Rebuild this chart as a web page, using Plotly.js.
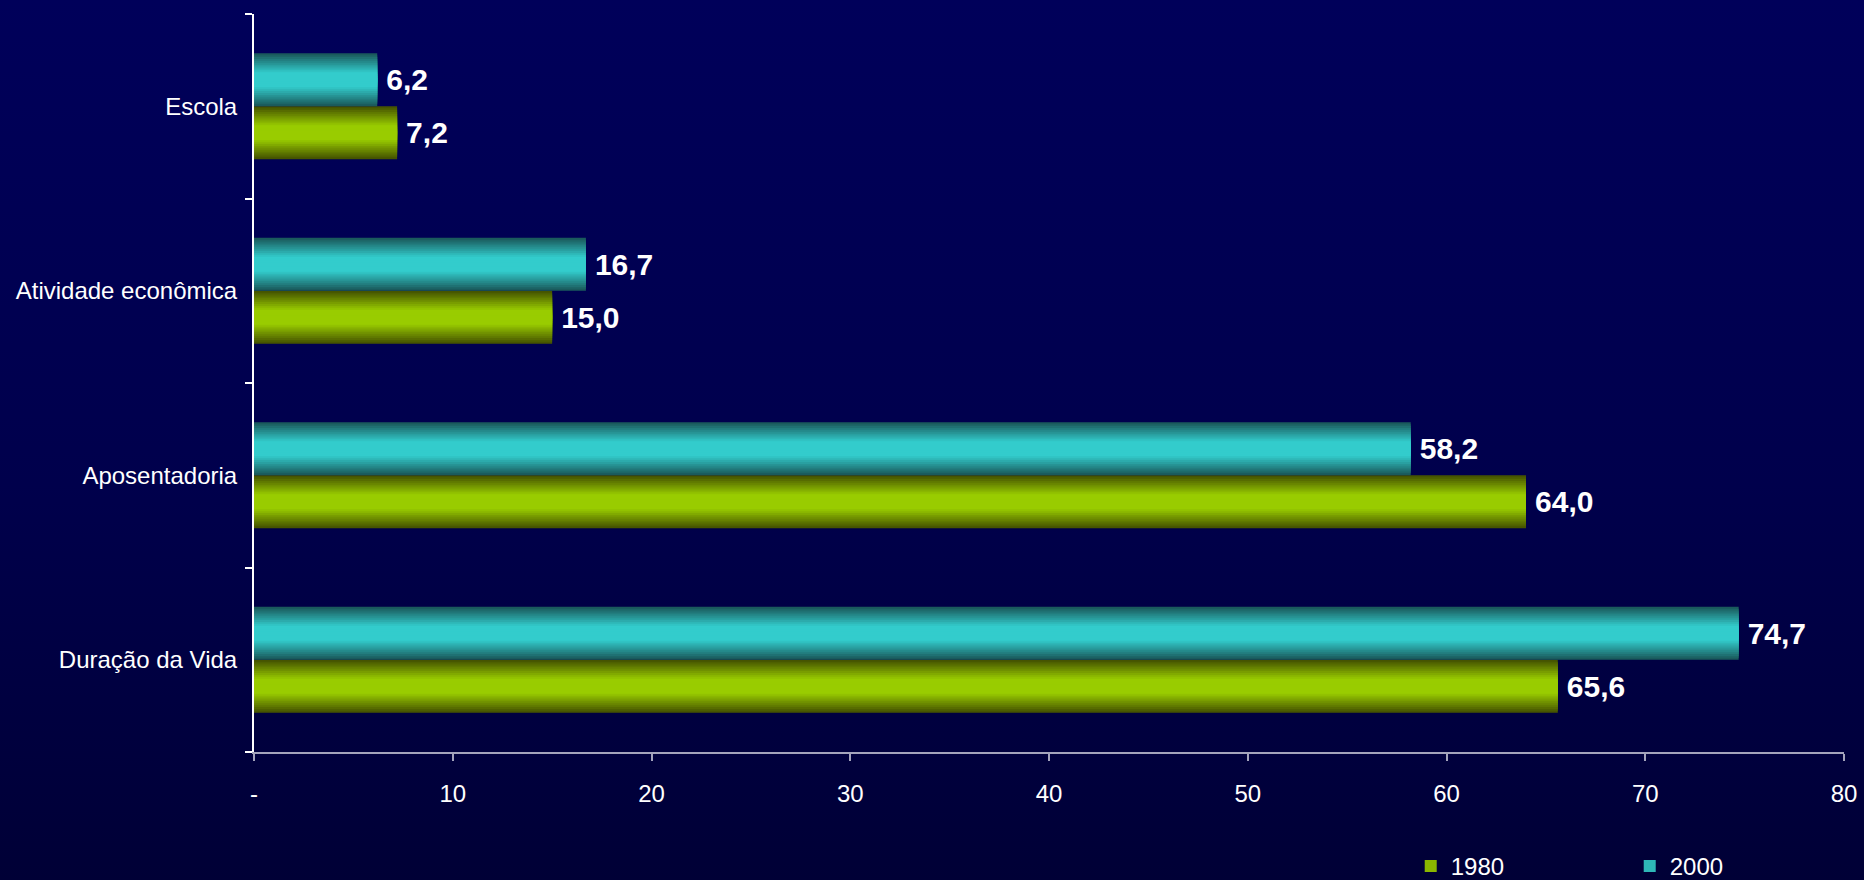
<!DOCTYPE html>
<html>
<head>
<meta charset="utf-8">
<script src="https://cdn.plot.ly/plotly-3.0.1.min.js"></script>
<style>
html,body{margin:0;padding:0;width:1864px;height:880px;overflow:hidden;
background:linear-gradient(to bottom,#00005a 0%,#00004c 55%,#000036 100%);}
#chart{width:1864px;height:880px;}
</style>
</head>
<body>
<div id="chart"></div>
<script>
// ---- data ----
const categories = ['Duração da Vida', 'Aposentadoria', 'Atividade econômica', 'Escola'];
const values1980 = [65.6, 64.0, 15.0, 7.2];
const values2000 = [74.7, 58.2, 16.7, 6.2];
const seriesNames = ['1980', '2000'];
const xTickVals = [0, 10, 20, 30, 40, 50, 60, 70, 80];
const xTickText = ['-', '10', '20', '30', '40', '50', '60', '70', '80'];

// ---- styling ----
const FONT = 'Liberation Sans, Arial, Helvetica, sans-serif';
const BAR_W = 0.287;            // bar thickness in category units
const LAYERS = 14;              // layers used to simulate vertical shading
const series = [
  {name: seriesNames[0], vals: values1980, edge: [70, 84, 0],  center: [153, 204, 0],  base: -BAR_W},
  {name: seriesNames[1], vals: values2000, edge: [26, 90, 92], center: [51, 204, 204], base: 0}
];

function lerp(a, b, t) { return a.map((v, i) => Math.round(v + (b[i] - v) * t)); }
function rgb(c) { return 'rgb(' + c.join(',') + ')'; }

const traces = [];
series.forEach(s => {
  for (let i = 0; i < LAYERS; i++) {
    const f = 1 - i / LAYERS;
    const t = Math.min(1, (i / LAYERS) / 0.7);
    const col = rgb(lerp(s.edge, s.center, t));
    const wi = BAR_W * f;
    const legendLayer = Math.round(LAYERS * 0.55);
    const tr = {
      type: 'bar', orientation: 'h',
      x: s.vals, y: categories,
      name: s.name, legendgroup: s.name,
      showlegend: i === legendLayer,
      width: wi, offset: s.base + (BAR_W - wi) / 2,
      marker: {color: col, line: {width: 0}},
      hoverinfo: 'skip'
    };
    if (i === 0) {
      tr.text = s.vals;
      tr.texttemplate = '\u2009%{x:.1f}';
      tr.textposition = 'outside';
      tr.constraintext = 'none';
      tr.cliponaxis = false;
      tr.textfont = {family: FONT, size: 30, color: '#ffffff', weight: 'bold'};
    } else {
      tr.textposition = 'none';
    }
    traces.push(tr);
  }
});

const layout = {
  width: 1864, height: 880,
  paper_bgcolor: 'rgba(0,0,0,0)', plot_bgcolor: 'rgba(0,0,0,0)',
  separators: ',.',
  barmode: 'overlay',
  margin: {l: 254, r: 20, t: 14, b: 128, pad: 0, autoexpand: false},
  font: {family: FONT, color: '#ffffff', size: 24},
  xaxis: {
    range: [0, 80], tickvals: xTickVals, ticktext: xTickText,
    showgrid: false, zeroline: false, automargin: false,
    showline: true, linecolor: '#a4a4bc', linewidth: 2,
    ticks: 'outside', ticklen: 7, tickcolor: '#a4a4bc', tickwidth: 2,
    ticklabelstandoff: 12,
    tickfont: {family: FONT, size: 24, color: '#ffffff'},
    fixedrange: true
  },
  yaxis: {
    type: 'category', automargin: false,
    showgrid: false, zeroline: false,
    showline: true, linecolor: '#ffffff', linewidth: 2,
    ticks: 'outside', tickson: 'boundaries', ticklen: 7, tickcolor: '#ffffff', tickwidth: 2,
    ticklabelstandoff: 10,
    tickfont: {family: FONT, size: 24, color: '#ffffff'},
    fixedrange: true
  },
  showlegend: true,
  legend: {
    orientation: 'h', x: 0.7275, xanchor: 'left', y: -0.155, yanchor: 'middle',
    bgcolor: 'rgba(0,0,0,0)',
    font: {family: FONT, size: 24, color: '#ffffff'},
    itemwidth: 30,
    entrywidth: 174, entrywidthmode: 'pixels',
    traceorder: 'normal'
  }
};

Plotly.newPlot('chart', traces, layout, {displayModeBar: false, staticPlot: true});
</script>
</body>
</html>
